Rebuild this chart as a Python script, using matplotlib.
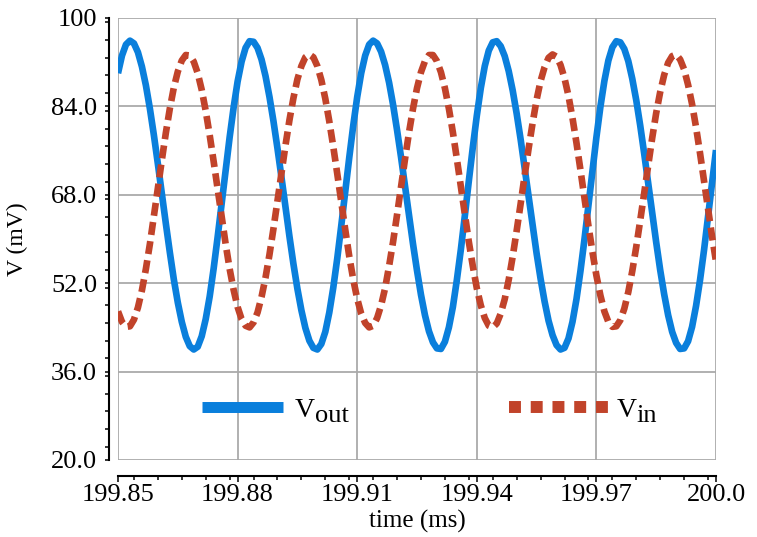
import numpy as np
import matplotlib
matplotlib.use("Agg")
import matplotlib.pyplot as plt
from matplotlib.lines import Line2D
from matplotlib.ticker import MultipleLocator

TIME_START, TIME_STOP, N_SAMPLES = 199.85, 200.0, 151
time_ms = np.linspace(TIME_START, TIME_STOP, N_SAMPLES)

v_out = [
    90.0, 93.2, 95.2, 95.9, 95.4, 93.8, 91.2, 87.8, 83.6, 78.8,
    73.6, 68.2, 62.8, 57.6, 52.7, 48.5, 45.0, 42.3, 40.6, 40.0,
    40.5, 42.4, 45.5, 49.6, 54.7, 60.4, 66.4, 72.5, 78.4, 83.8,
    88.5, 92.1, 94.6, 95.8, 95.7, 94.6, 92.5, 89.5, 85.7, 81.3,
    76.4, 71.2, 65.8, 60.5, 55.5, 51.0, 47.1, 43.9, 41.6, 40.3,
    40.0, 41.0, 43.2, 46.7, 51.2, 56.5, 62.4, 68.6, 74.7, 80.5,
    85.7, 90.0, 93.2, 95.2, 95.9, 95.4, 93.9, 91.5, 88.3, 84.3,
    79.7, 74.8, 69.5, 64.3, 59.1, 54.3, 49.9, 46.2, 43.3, 41.3,
    40.2, 40.1, 41.4, 44.0, 47.7, 52.6, 58.1, 64.2, 70.5, 76.6,
    82.3, 87.3, 91.3, 94.1, 95.6, 95.8, 94.9, 93.1, 90.4, 86.9,
    82.7, 78.0, 72.9, 67.7, 62.5, 57.4, 52.8, 48.7, 45.2, 42.6,
    40.8, 40.0, 40.3, 42.0, 45.0, 49.1, 54.2, 59.9, 66.1, 72.3,
    78.4, 83.9, 88.6, 92.3, 94.7, 95.8, 95.6, 94.4, 92.2, 89.0,
    85.1, 80.5, 75.4, 70.1, 64.7, 59.4, 54.4, 50.0, 46.2, 43.2,
    41.2, 40.1, 40.2, 41.5, 44.1, 47.9, 52.6, 58.0, 64.0, 70.1,
    76.1,
]

v_in = [
    46.9, 45.0, 44.1, 44.2, 45.4, 47.6, 50.7, 54.6, 59.1, 64.1,
    69.2, 74.3, 79.2, 83.6, 87.4, 90.3, 92.3, 93.3, 93.2, 92.1,
    90.0, 87.0, 83.2, 78.8, 74.0, 69.0, 63.9, 59.1, 54.6, 50.8,
    47.7, 45.5, 44.3, 44.0, 44.9, 46.7, 49.5, 53.0, 57.2, 61.9,
    66.9, 72.0, 76.9, 81.5, 85.5, 88.9, 91.3, 92.9, 93.4, 92.9,
    91.3, 88.8, 85.4, 81.3, 76.7, 71.8, 66.7, 61.7, 56.9, 52.7,
    49.2, 46.5, 44.8, 44.0, 44.3, 45.7, 48.0, 51.1, 55.1, 59.5,
    64.4, 69.5, 74.5, 79.3, 83.6, 87.3, 90.2, 92.2, 93.3, 93.3,
    92.2, 90.2, 87.3, 83.6, 79.3, 74.5, 69.5, 64.4, 59.5, 55.1,
    51.1, 48.0, 45.7, 44.3, 44.0, 44.7, 46.5, 49.1, 52.6, 56.8,
    61.5, 66.4, 71.5, 76.4, 81.0, 85.2, 88.6, 91.1, 92.8, 93.4,
    93.0, 91.5, 89.1, 85.9, 81.9, 77.4, 72.5, 67.4, 62.4, 57.7,
    53.4, 49.8, 46.9, 45.0, 44.1, 44.2, 45.3, 47.4, 50.4, 54.2,
    58.6, 63.4, 68.4, 73.5, 78.3, 82.8, 86.6, 89.7, 91.9, 93.1,
    93.4, 92.5, 90.7, 87.9, 84.4, 80.2, 75.5, 70.5, 65.4, 60.5,
    55.9,
]

x_ticks = [199.85, 199.88, 199.91, 199.94, 199.97, 200.0]
x_tick_labels = ["199.85", "199.88", "199.91", "199.94", "199.97", "200.0"]
y_ticks = [20, 36, 52, 68, 84, 100]
y_tick_labels = ["20.0", "36.0", "52.0", "68.0", "84.0", "100"]

BLUE = "#0a7fdc"
RED = "#c1432a"

# ─── Plot ────────────────────────────────────────────────────────────────────
plt.rcParams["font.family"] = ["Liberation Serif", "DejaVu Serif"]

fig = plt.figure(figsize=(7.57, 5.37), dpi=100)
ax = fig.add_axes([118 / 757, 77 / 537, 598 / 757, 442 / 537])

ax.plot(time_ms, v_out, color=BLUE, lw=4.8, solid_capstyle="butt", zorder=3)
ax.plot(time_ms, v_in, color=RED, lw=4.8, dashes=(1.95, 0.95),
        dash_capstyle="butt", zorder=3)

ax.set_xlim(TIME_START, TIME_STOP)
ax.set_ylim(20, 100)
ax.set_xticks(x_ticks)
ax.set_xticklabels(x_tick_labels)
ax.set_yticks(y_ticks)
ax.set_yticklabels(y_tick_labels)
ax.xaxis.set_minor_locator(MultipleLocator(0.006))
ax.yaxis.set_minor_locator(MultipleLocator(3.2))
ax.grid(True, which="major", color="#aaaaaa", lw=1.3)

for s in ("top", "right"):
    ax.spines[s].set_visible(False)
ax.spines["left"].set_position(("outward", 6.5))
ax.spines["bottom"].set_position(("outward", 11.5))
for s in ("left", "bottom"):
    ax.spines[s].set_linewidth(1.5)

ax.tick_params(axis="y", which="both", direction="out", length=3, width=1.1,
               labelsize=19, pad=5.5)
ax.tick_params(axis="x", which="major", direction="out", length=4.5, width=1.1,
               labelsize=19, pad=1)
ax.tick_params(axis="x", which="minor", direction="out", length=3, width=1.1)

ax.set_xlabel("time (ms)", fontsize=18)
ax.xaxis.set_label_coords(0.5, -0.112)
ax.set_ylabel("V (mV)", fontsize=17)
ax.yaxis.set_label_coords(-0.15, 0.5)

# legend: two separate entries with their own handle lengths,
# subscripts drawn next to the "V" at nearly full size
h_out = Line2D([], [], color=BLUE, lw=7.9, solid_capstyle="butt")
h_in = Line2D([], [], color=RED, lw=8.6, dashes=(1.0, 0.82), dash_capstyle="butt")
leg1 = ax.legend([h_out], ["V"], loc="center left",
                 bbox_to_anchor=(202 / 757, 1 - 410 / 537), bbox_transform=fig.transFigure,
                 frameon=False, fontsize=20, handlelength=2.91, handletextpad=0.43,
                 borderpad=0, borderaxespad=0)
ax.add_artist(leg1)
leg2 = ax.legend([h_in], ["V"], loc="center left",
                 bbox_to_anchor=(509 / 757, 1 - 410 / 537), bbox_transform=fig.transFigure,
                 frameon=False, fontsize=20, handlelength=3.7, handletextpad=0.18,
                 borderpad=0, borderaxespad=0)

# drawn after the legends (zorder above 5) so their text positions are known
for leg, sub in ((leg1, "out"), (leg2, "in")):
    ax.annotate(sub, xy=(1, 0), xycoords=leg.get_texts()[0], xytext=(0, 1),
                textcoords="offset pixels", va="baseline", ha="left",
                fontsize=19, zorder=6)

fig.savefig("out.png", dpi=100)
